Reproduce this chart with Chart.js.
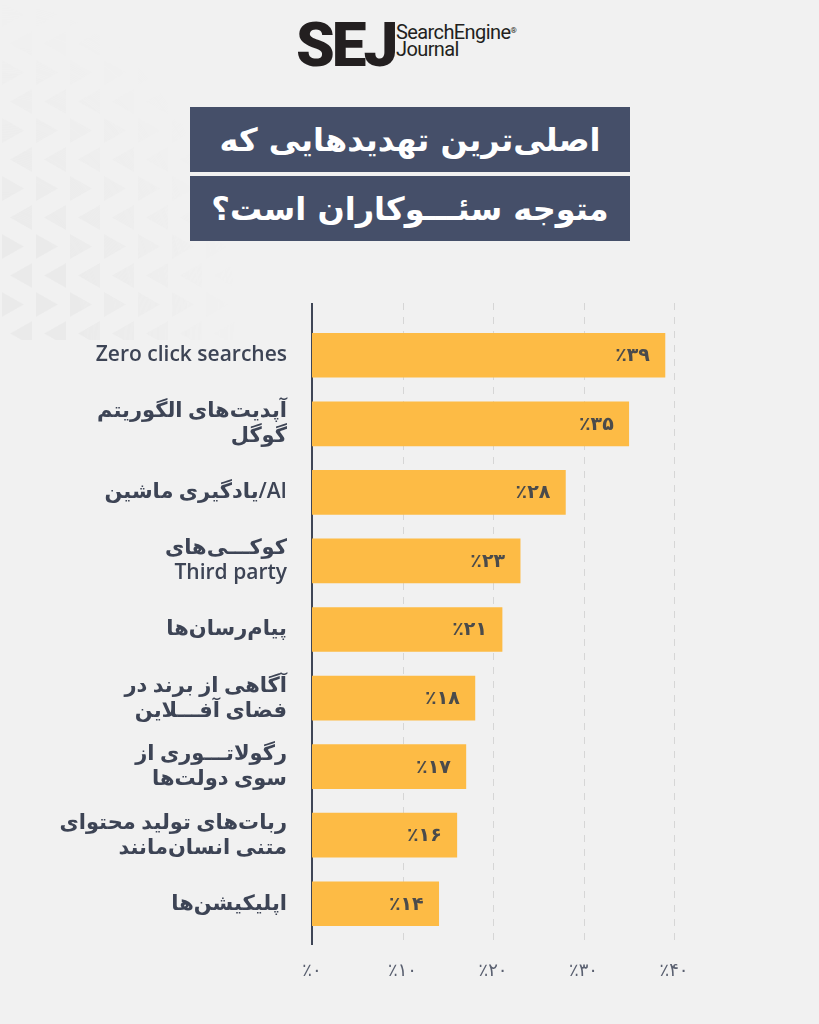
<!DOCTYPE html>
<html>
<head>
<meta charset="utf-8">
<script src="https://cdn.jsdelivr.net/npm/chart.js@4.4.1/dist/chart.umd.min.js"></script>
<style>
  html, body { margin:0; padding:0; }
  body { width:819px; height:1024px; background:#f1f1f1; position:relative; overflow:hidden; font-family: Roboto, "DejaVu Sans", sans-serif; }
  #pattern { position:absolute; left:0; top:0; width:240px; height:340px;
    background-image:url("data:image/svg+xml;utf8,<svg xmlns='http://www.w3.org/2000/svg' width='34' height='58'><g fill='%23e5e5e5'><polygon points='2,2 2,27 24,14.5'/><polygon points='32,31 32,56 10,43.5'/></g></svg>");
    background-size:34px 58px; opacity:0.5;
    -webkit-mask-image: radial-gradient(ellipse 240px 340px at 0% 100%, rgba(0,0,0,1) 35%, rgba(0,0,0,0) 100%);
    mask-image: radial-gradient(ellipse 240px 340px at 0% 100%, rgba(0,0,0,1) 35%, rgba(0,0,0,0) 100%); }
  .logo { position:absolute; left:296px; top:14px; height:60px; }
  .sej { position:absolute; left:0; top:0; font-family: Roboto, Inter, sans-serif; font-weight:900; font-size:62px; line-height:62px; letter-spacing:-3px; color:#231f20; }
  .sejtxt { position:absolute; left:100px; top:10px; font-family: Roboto, sans-serif; font-size:20px; line-height:17px; letter-spacing:-0.6px; color:#231f20; white-space:nowrap; }
  .sejtxt sup { font-size:8px; vertical-align:top; position:relative; top:-2px; }
  .tbox { position:absolute; left:190px; width:440px; height:65px; background:#454f69; color:#fff; font-family:"DejaVu Sans", sans-serif; font-weight:bold; font-size:32px; display:flex; align-items:center; justify-content:center; direction:rtl; }
  canvas { position:absolute; left:0; top:0; }
</style>
</head>
<body>
<div id="pattern"></div>
<div class="logo">
  <div class="sej">SEJ</div>
  <div class="sejtxt">SearchEngine<sup>®</sup><br>Journal</div>
</div>
<div class="tbox" style="top:107px;">اصلی‌ترین تهدیدهایی که</div>
<div class="tbox" style="top:176px;">متوجه سئـــوکاران است؟</div>
<div id="wrap"><canvas id="c" width="819" height="1024"></canvas></div>
<script>
const categories = [
  ["Zero click searches"],
  ["آپدیت‌های الگوریتم", "گوگل"],
  ["یادگیری ماشین/AI"],
  ["کوکـــی‌های", "Third party"],
  ["پیام‌رسان‌ها"],
  ["آگاهی از برند در", "فضای آفـــلاین"],
  ["رگولاتـــوری از", "سوی دولت‌ها"],
  ["ربات‌های تولید محتوای", "متنی انسان‌مانند"],
  ["اپلیکیشن‌ها"]
];
const values = [39, 35, 28, 23, 21, 18, 17, 16, 14];
const tickValues = [0, 10, 20, 30, 40];

const faDigits = ['۰','۱','۲','۳','۴','۵','۶','۷','۸','۹'];
function fa(n) { return String(n).replace(/[0-9]/g, d => faDigits[+d]); }
const PCT = '٪';

const LABEL_FONT = '600 21px "Open Sans", "DejaVu Sans", sans-serif';
const LABEL_LINE = 25;

// draw a line of mixed-script text in left-to-right run order, right-aligned at xr
function drawMixed(ctx, text, xr, y) {
  const runs = text.match(/[\u0600-\u06FF\u200c\u0640 ]+|[^\u0600-\u06FF\u200c\u0640]+/g) || [text];
  const widths = runs.map(r => ctx.measureText(r).width);
  let x = xr - widths.reduce((a, b) => a + b, 0);
  ctx.textAlign = 'left';
  runs.forEach((r, i) => { ctx.fillText(r, x, y); x += widths[i]; });
}
// "٪" on the left, digits on the right
function drawPct(ctx, n, x, y, align) {
  const num = fa(n);
  const wn = ctx.measureText(num).width, wp = ctx.measureText(PCT).width;
  let left = align === 'right' ? x - wn - wp : x - (wn + wp) / 2;
  ctx.textAlign = 'left';
  ctx.fillText(PCT, left, y);
  ctx.fillText(num, left + wp, y);
}

const drawPlugin = {
  id: 'customDraw',
  beforeDatasetsDraw(chart) {
    const {ctx, chartArea, scales} = chart;
    const x = scales.x, yS = scales.y;
    const top = chartArea.top - 18, bottom = chartArea.bottom + 7;
    ctx.save();
    ctx.strokeStyle = '#d6d6d6';
    ctx.lineWidth = 1;
    ctx.setLineDash([7, 7]);
    tickValues.forEach(v => {
      if (v === 0) return;
      const px = Math.round(x.getPixelForValue(v)) + 0.5;
      ctx.beginPath(); ctx.moveTo(px, top); ctx.lineTo(px, bottom); ctx.stroke();
    });
    ctx.setLineDash([]);
    ctx.strokeStyle = '#3f4656';
    ctx.lineWidth = 2;
    const p0 = x.getPixelForValue(0);
    ctx.beginPath(); ctx.moveTo(p0, top); ctx.lineTo(p0, bottom); ctx.stroke();

    // category labels
    ctx.font = LABEL_FONT;
    ctx.fillStyle = '#3d4455';
    ctx.textBaseline = 'middle';
    categories.forEach((lines, i) => {
      const cy = yS.getPixelForTick(i);
      const y0 = cy - (lines.length - 1) * LABEL_LINE / 2;
      lines.forEach((ln, j) => drawMixed(ctx, ln, p0 - 25, y0 + j * LABEL_LINE));
    });

    // x tick labels
    ctx.font = '18px "DejaVu Sans", sans-serif';
    ctx.fillStyle = '#5a6070';
    tickValues.forEach(v => drawPct(ctx, v, x.getPixelForValue(v), chartArea.bottom + 33, 'center'));
    ctx.restore();
  },
  afterDatasetsDraw(chart) {
    const {ctx} = chart;
    const meta = chart.getDatasetMeta(0);
    ctx.save();
    ctx.font = 'bold 19px "DejaVu Sans", sans-serif';
    ctx.fillStyle = '#4b4b4b';
    ctx.textBaseline = 'middle';
    meta.data.forEach((bar, i) => drawPct(ctx, values[i], bar.x - 15, bar.y + 1, 'right'));
    ctx.restore();
  }
};

new Chart(document.getElementById('c'), {
  type: 'bar',
  data: {
    labels: categories.map(l => l.join(' ')),
    datasets: [{
      data: values,
      backgroundColor: '#fdbb45',
      borderWidth: 0,
      barThickness: 44
    }]
  },
  options: {
    indexAxis: 'y',
    responsive: false,
    animation: false,
    devicePixelRatio: 1,
    layout: { padding: { top: 321, right: 145, bottom: 0, left: 0 } },
    plugins: { legend: { display: false }, tooltip: { enabled: false } },
    scales: {
      x: {
        type: 'linear',
        min: 0, max: 40,
        afterBuildTicks(scale) { scale.ticks = tickValues.map(v => ({ value: v })); },
        afterFit(scale) { scale.height = 86; },
        grid: { display: false, drawTicks: false },
        border: { display: false },
        ticks: { display: false }
      },
      y: {
        afterFit(scale) { scale.width = 312; },
        grid: { display: false, drawTicks: false },
        border: { display: false },
        ticks: { display: false }
      }
    }
  },
  plugins: [drawPlugin]
});
</script>
</body>
</html>
